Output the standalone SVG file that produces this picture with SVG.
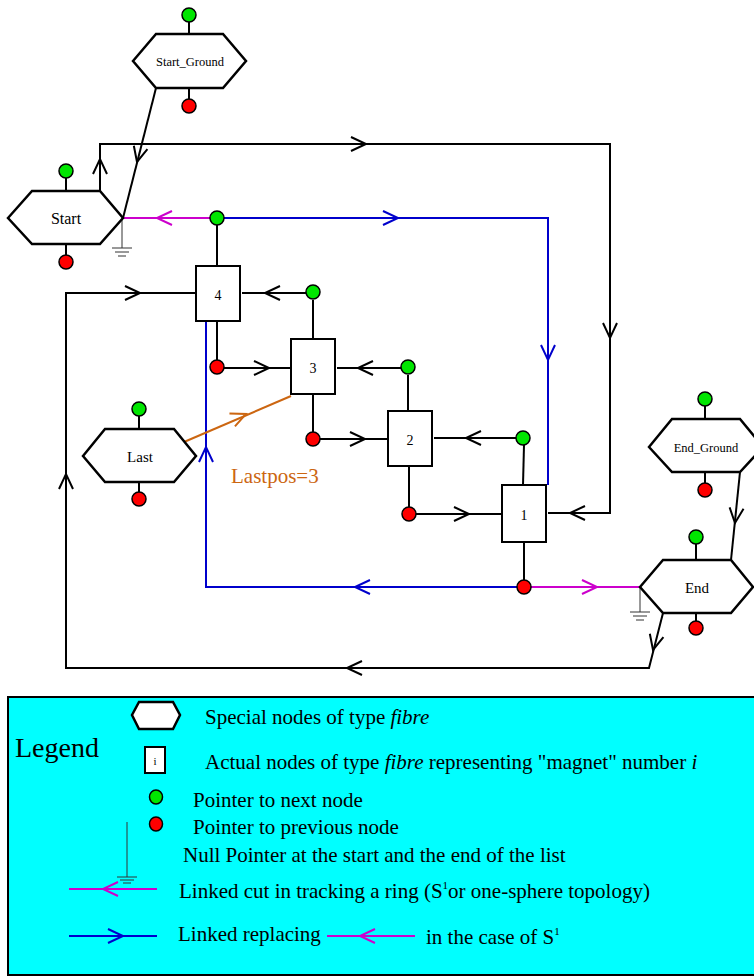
<svg xmlns="http://www.w3.org/2000/svg" xmlns:xlink="http://www.w3.org/1999/xlink" width="754" height="977" viewBox="0 0 754 977">
<style>
.hex{fill:#fff;stroke:#000;stroke-width:2.5;stroke-linejoin:miter}
.box{fill:#fff;stroke:#000;stroke-width:2}
.g{fill:#00e600;stroke:#000;stroke-width:1.5}
.r{fill:#ff0000;stroke:#000;stroke-width:1.5}
.k{stroke:#000;stroke-width:2;fill:none}
.bl{stroke:#0000cc;stroke-width:2;fill:none}
.mg{stroke:#cc00cc;stroke-width:2;fill:none}
.or{stroke:#cc6611;stroke-width:2;fill:none}
.gnd{stroke:#333;stroke-width:1;fill:none}
.t{font-family:"Liberation Serif","Times New Roman",serif;fill:#000}
</style>
<defs>
<path id="chev" d="M-15,-7 L0,0 L-15,7" fill="none" stroke-width="2"/>
</defs>
<rect width="754" height="977" fill="#fff"/>

<g id="connectors">
<!-- Start_Ground to Start -->
<line class="k" x1="156" y1="88" x2="123" y2="218"/>
<use xlink:href="#chev" stroke="#000" transform="translate(137,162) rotate(104)"/>
<!-- Start up and around to node 1 -->
<polyline class="k" points="100,191 100,144 610,144 610,513 548,513"/>
<use xlink:href="#chev" stroke="#000" transform="translate(100,159) rotate(-90)"/>
<use xlink:href="#chev" stroke="#000" transform="translate(366,144)"/>
<use xlink:href="#chev" stroke="#000" transform="translate(610,338) rotate(90)"/>
<use xlink:href="#chev" stroke="#000" transform="translate(570,513) rotate(180)"/>
<!-- Start ground -->
<line class="gnd" x1="122" y1="218" x2="122" y2="248"/>
<line class="gnd" x1="112" y1="248" x2="132" y2="248"/>
<line class="gnd" x1="115" y1="252" x2="129" y2="252"/>
<line class="gnd" x1="118" y1="256" x2="126" y2="256"/>
<!-- magenta Start -->
<line class="mg" x1="123" y1="218" x2="210" y2="218"/>
<use xlink:href="#chev" stroke="#cc00cc" transform="translate(157,218) rotate(180)"/>
<!-- blue top -->
<polyline class="bl" points="224,218 548,218 548,485"/>
<use xlink:href="#chev" stroke="#0000cc" transform="translate(398,218)"/>
<use xlink:href="#chev" stroke="#0000cc" transform="translate(548,360) rotate(90)"/>
<!-- node stubs -->
<line class="k" x1="217" y1="225" x2="217" y2="266"/>
<line class="k" x1="242" y1="293" x2="306" y2="293"/>
<use xlink:href="#chev" stroke="#000" transform="translate(265,293) rotate(180)"/>
<line class="k" x1="313" y1="300" x2="313" y2="339"/>
<line class="k" x1="217" y1="321" x2="217" y2="360"/>
<line class="k" x1="224" y1="368" x2="291" y2="368"/>
<use xlink:href="#chev" stroke="#000" transform="translate(269,368)"/>
<line class="k" x1="337" y1="368" x2="401" y2="368"/>
<use xlink:href="#chev" stroke="#000" transform="translate(358,368) rotate(180)"/>
<line class="k" x1="408" y1="375" x2="408" y2="411"/>
<line class="k" x1="313" y1="394" x2="313" y2="432"/>
<line class="k" x1="320" y1="439" x2="388" y2="439"/>
<use xlink:href="#chev" stroke="#000" transform="translate(365,439)"/>
<line class="k" x1="434" y1="438" x2="516" y2="438"/>
<use xlink:href="#chev" stroke="#000" transform="translate(466,438) rotate(180)"/>
<line class="k" x1="524" y1="445" x2="523" y2="485"/>
<line class="k" x1="409" y1="467" x2="409" y2="507"/>
<line class="k" x1="416" y1="514" x2="502" y2="514"/>
<use xlink:href="#chev" stroke="#000" transform="translate(469,514)"/>
<line class="k" x1="524" y1="542" x2="524" y2="580"/>
<!-- blue bottom -->
<polyline class="bl" points="517,587 206,587 206,321"/>
<use xlink:href="#chev" stroke="#0000cc" transform="translate(355,587) rotate(180)"/>
<use xlink:href="#chev" stroke="#0000cc" transform="translate(206,447) rotate(-90)"/>
<!-- magenta to End -->
<line class="mg" x1="531" y1="587" x2="640" y2="587"/>
<use xlink:href="#chev" stroke="#cc00cc" transform="translate(597,587)"/>
<!-- End ground -->
<line class="gnd" x1="640" y1="587" x2="640" y2="612"/>
<line class="gnd" x1="630" y1="612" x2="650" y2="612"/>
<line class="gnd" x1="633" y1="616" x2="647" y2="616"/>
<line class="gnd" x1="636" y1="620" x2="644" y2="620"/>
<!-- End_Ground to End -->
<line class="k" x1="740" y1="472" x2="731" y2="560"/>
<use xlink:href="#chev" stroke="#000" transform="translate(735,523) rotate(96)"/>
<!-- End around to node 4 -->
<polyline class="k" points="663,613 649,668 66,668 66,293 196,293"/>
<use xlink:href="#chev" stroke="#000" transform="translate(653,650) rotate(104)"/>
<use xlink:href="#chev" stroke="#000" transform="translate(347,668) rotate(180)"/>
<use xlink:href="#chev" stroke="#000" transform="translate(66,474) rotate(-90)"/>
<use xlink:href="#chev" stroke="#000" transform="translate(140,293)"/>
<!-- Last to node 3 -->
<line class="or" x1="184" y1="442" x2="291" y2="396"/>
<use xlink:href="#chev" stroke="#cc6611" transform="translate(246,414) rotate(-23)"/>
</g>

<g id="start_ground">
<line class="k" x1="189" y1="22" x2="189" y2="34"/>
<line class="k" x1="189" y1="88" x2="189" y2="99"/>
<polygon class="hex" points="133,61 156,34 223,34 246,61 223,88 156,88"/>
<circle class="g" cx="189" cy="15" r="7"/>
<circle class="r" cx="189" cy="106" r="7"/>
<text class="t" x="190" y="66" font-size="12.5" text-anchor="middle">Start_Ground</text>
</g>

<g id="start">
<line class="k" x1="66" y1="178" x2="66" y2="191"/>
<line class="k" x1="66" y1="244" x2="66" y2="255"/>
<polygon class="hex" points="8,218 32,191 100,191 123,218 100,244 32,244"/>
<circle class="g" cx="66" cy="171" r="7"/>
<circle class="r" cx="66" cy="262" r="7"/>
<text class="t" x="66" y="224" font-size="16" text-anchor="middle">Start</text>
</g>

<g id="node4">
<rect class="box" x="196" y="266" width="44" height="55"/>
<circle class="g" cx="217" cy="218" r="7"/>
<circle class="r" cx="217" cy="367" r="7"/>
<text class="t" x="218" y="300" font-size="14" text-anchor="middle">4</text>
</g>

<g id="node3">
<rect class="box" x="291" y="339" width="44" height="55"/>
<circle class="g" cx="313" cy="292" r="7"/>
<circle class="r" cx="313" cy="439" r="7"/>
<text class="t" x="313" y="373" font-size="14" text-anchor="middle">3</text>
</g>

<g id="node2">
<rect class="box" x="388" y="411" width="44" height="55"/>
<circle class="g" cx="408" cy="367" r="7"/>
<circle class="r" cx="409" cy="514" r="7"/>
<text class="t" x="410" y="445" font-size="14" text-anchor="middle">2</text>
</g>

<g id="node1">
<rect class="box" x="502" y="485" width="44" height="57"/>
<circle class="g" cx="523" cy="438" r="7"/>
<circle class="r" cx="524" cy="587" r="7"/>
<text class="t" x="524" y="520" font-size="14" text-anchor="middle">1</text>
</g>

<g id="last">
<line class="k" x1="139" y1="416" x2="139" y2="429"/>
<line class="k" x1="139" y1="482" x2="139" y2="492"/>
<polygon class="hex" points="83,456 105,429 174,429 196,456 174,482 105,482"/>
<circle class="g" cx="139" cy="409" r="7"/>
<circle class="r" cx="139" cy="499" r="7"/>
<text class="t" x="140" y="462" font-size="15" text-anchor="middle">Last</text>
<text class="t" x="231" y="483" font-size="21" fill="#cc6611" style="fill:#cc6611">Lastpos=3</text>
</g>

<g id="end_ground">
<line class="k" x1="705" y1="406" x2="705" y2="419"/>
<line class="k" x1="705" y1="472" x2="705" y2="483"/>
<polygon class="hex" points="649,447 672,419 740,419 763,447 740,472 672,472"/>
<circle class="g" cx="705" cy="399" r="7"/>
<circle class="r" cx="705" cy="490" r="7"/>
<text class="t" x="706" y="452" font-size="12.5" text-anchor="middle">End_Ground</text>
</g>

<g id="end">
<line class="k" x1="696" y1="544" x2="696" y2="560"/>
<line class="k" x1="696" y1="613" x2="696" y2="621"/>
<polygon class="hex" points="640,587 663,560 731,560 753,587 731,613 663,613"/>
<circle class="g" cx="696" cy="537" r="7"/>
<circle class="r" cx="696" cy="628" r="7"/>
<text class="t" x="697" y="593" font-size="15" text-anchor="middle">End</text>
</g>

<g id="legend">
<rect x="8" y="697" width="760" height="278" fill="#00ffff" stroke="#000" stroke-width="2"/>
<text class="t" x="15" y="757" font-size="28">Legend</text>
<polygon class="hex" points="132,715 139,702 173,702 180,715 173,729 139,729"/>
<text class="t" x="205" y="724" font-size="21">Special nodes of type <tspan font-style="italic">fibre</tspan></text>
<rect class="box" x="145" y="747" width="20" height="26"/>
<text class="t" x="155" y="765" font-size="11" text-anchor="middle">i</text>
<text class="t" x="205" y="769" font-size="21">Actual nodes of type <tspan font-style="italic">fibre</tspan> representing "magnet" number <tspan font-style="italic">i</tspan></text>
<ellipse class="g" cx="156" cy="797" rx="6.5" ry="7"/>
<text class="t" x="193" y="807" font-size="21">Pointer to next node</text>
<ellipse class="r" cx="156" cy="824" rx="6.5" ry="7"/>
<text class="t" x="193" y="834" font-size="21">Pointer to previous node</text>
<line class="gnd" x1="127" y1="822" x2="127" y2="877"/>
<line class="gnd" x1="117" y1="877" x2="137" y2="877"/>
<line class="gnd" x1="120" y1="880" x2="134" y2="880"/>
<line class="gnd" x1="123" y1="883" x2="131" y2="883"/>
<text class="t" x="183" y="862" font-size="21">Null Pointer at the start and the end of the list</text>
<line class="mg" x1="69" y1="889" x2="157" y2="889"/>
<use xlink:href="#chev" stroke="#cc00cc" transform="translate(103,889) rotate(180)"/>
<text class="t" x="179" y="898" font-size="21">Linked cut in tracking a ring (S<tspan font-size="11" dy="-9">1</tspan><tspan dy="9">or one-sphere topology)</tspan></text>
<line class="bl" x1="69" y1="936" x2="157" y2="936"/>
<use xlink:href="#chev" stroke="#0000cc" transform="translate(123,936)"/>
<text class="t" x="178" y="941" font-size="21">Linked replacing</text>
<line class="mg" x1="327" y1="936" x2="415" y2="936"/>
<use xlink:href="#chev" stroke="#cc00cc" transform="translate(360,936) rotate(180)"/>
<text class="t" x="426" y="944" font-size="21">in the case of S<tspan font-size="11" dy="-9">1</tspan></text>
</g>
</svg>
